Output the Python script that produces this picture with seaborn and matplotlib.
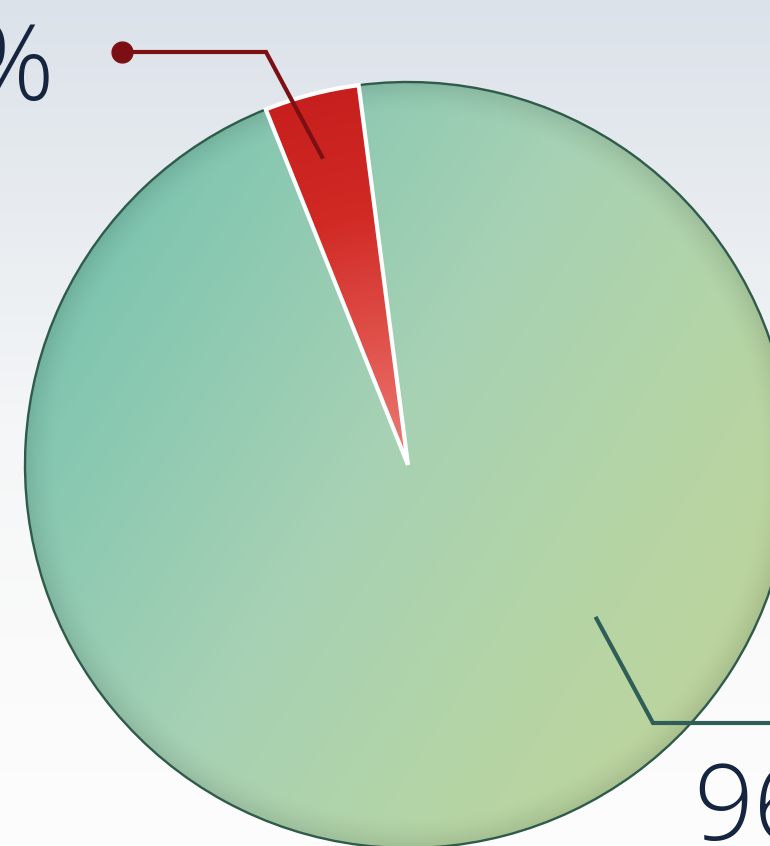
import numpy as np
import matplotlib
matplotlib.use("Agg")
import matplotlib.pyplot as plt
from matplotlib.colors import LinearSegmentedColormap
from matplotlib.patches import Wedge
import seaborn as sns

# Share of responses
categories = ["Minority", "Majority"]
shares = [4, 96]
labels = ["4%", "96%"]

sns.set_theme(style="white")
plt.rcParams["font.family"] = ["Open Sans", "DejaVu Sans"]

W, H = 770, 846
fig = plt.figure(figsize=(W / 100, H / 100), dpi=100)
ax = fig.add_axes([0, 0, 1, 1])

cx, cy, R = 408, 381, 383

# page background: white at the bottom fading to soft blue-grey at the top
bg = LinearSegmentedColormap.from_list(
    "bg", ["#fdfdfd", "#fafafa", "#f4f6f7", "#e8ecf0", "#dbe2e9"])
ygrad = np.linspace(0, 1, 256).reshape(-1, 1)
ax.imshow(ygrad, cmap=bg, extent=[0, W, 0, H], origin="lower",
          aspect="auto", zorder=0)

wedges, _ = ax.pie(
    shares,
    colors=["#d42a26", "#9fcfb2"],
    startangle=97.4,
    counterclock=True,
    center=(cx, cy),
    radius=R,
    frame=True,
    wedgeprops=dict(linewidth=0),
)

# green slice: diagonal teal -> yellow-green gradient with a darker rim
gx, gy = np.meshgrid(np.linspace(0, W, 400), np.linspace(H, 0, 440))
ang = np.deg2rad(-32)
t = ((gx - (cx - R)) * np.cos(ang) + (gy - (cy + R)) * np.sin(ang))
t = (t - t.min()) / (t.max() - t.min())
green_cmap = LinearSegmentedColormap.from_list(
    "grn", ["#60baa6", "#85c7b1", "#a6d1b4", "#b6d5a4", "#c2d498"])
rgb = green_cmap(t)[..., :3]
rr = np.hypot(gx - cx, gy - cy) / R
shade = 1 - 0.10 * np.clip((rr - 0.92) / 0.08, 0, 1) ** 1.5
rgb = rgb * shade[..., None]
im = ax.imshow(rgb, extent=[0, W, 0, H], origin="upper", aspect="auto", zorder=2)
im.set_clip_path(wedges[1])
wedges[1].set_zorder(1)

# red slice: radial gradient, deeper toward the rim
red_cmap = LinearSegmentedColormap.from_list(
    "red", ["#ec7d74", "#e0514b", "#d12a25", "#c61f1d"])
im2 = ax.imshow(red_cmap(np.clip(rr, 0, 1))[..., :3], extent=[0, W, 0, H],
                origin="upper", aspect="auto", zorder=3)
im2.set_clip_path(wedges[0])
wedges[0].set_zorder(1)

# outlines drawn on top of the gradients
for w, ec, lw in [(wedges[1], "#2f5b4a", 1.7), (wedges[0], "white", 3.0)]:
    ax.add_patch(Wedge(w.center, w.r, w.theta1, w.theta2, facecolor="none",
                       edgecolor=ec, linewidth=lw, zorder=4))

# leader lines anchored on the slices
def anchor(theta_deg, frac):
    th = np.deg2rad(theta_deg)
    return cx + frac * R * np.cos(th), cy + frac * R * np.sin(th)

red_mid = (wedges[0].theta1 + wedges[0].theta2) / 2
x0, y0 = anchor(red_mid + 0.9, 0.83)
ax.plot([x0, 266, 122], [y0, 794, 794], color="#7c0f14", lw=3.0,
        solid_joinstyle="miter", solid_capstyle="butt", zorder=5)
ax.plot([122], [794], "o", color="#7c0f14", ms=15, zorder=5)

x1, y1 = anchor(-39, 0.63)
ax.plot([x1, 653, W + 5], [y1, 123, 123], color="#2e5e57", lw=3.0,
        solid_joinstyle="miter", solid_capstyle="butt", zorder=5)

ax.text(55, 746, labels[0], ha="right", va="baseline", fontsize=76,
        fontweight="light", color="#15243f", zorder=6)
ax.text(693, 6, labels[1], ha="left", va="baseline", fontsize=76,
        fontweight="light", color="#15243f", zorder=6)

ax.set_xlim(0, W)
ax.set_ylim(0, H)
ax.set_aspect("equal")
ax.axis("off")

fig.savefig("out.png", dpi=100)
